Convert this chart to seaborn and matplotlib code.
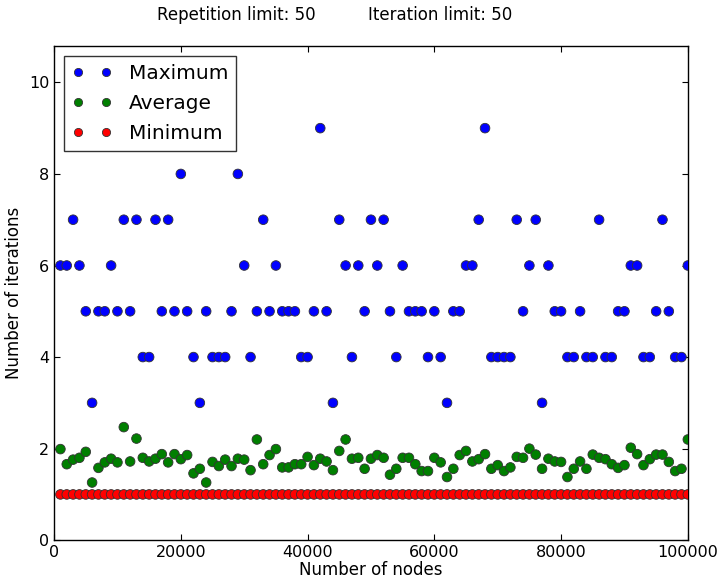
import matplotlib
matplotlib.use("Agg")
import matplotlib.pyplot as plt
import seaborn as sns
import numpy as np
import pandas as pd

nodes = list(range(1000, 100001, 1000))

maximum = [6, 6, 7, 6, 5, 3, 5, 5, 6, 5,
           7, 5, 7, 4, 4, 7, 5, 7, 5, 8,
           5, 4, 3, 5, 4, 4, 4, 5, 8, 6,
           4, 5, 7, 5, 6, 5, 5, 5, 4, 4,
           5, 9, 5, 3, 7, 6, 4, 6, 5, 7,
           6, 7, 5, 4, 6, 5, 5, 5, 4, 5,
           4, 3, 5, 5, 6, 6, 7, 9, 4, 4,
           4, 4, 7, 5, 6, 7, 3, 6, 5, 5,
           4, 4, 5, 4, 4, 7, 4, 4, 5, 5,
           6, 6, 4, 4, 5, 7, 5, 4, 4, 6]

average = [1.99, 1.66, 1.76, 1.80, 1.93, 1.26, 1.58, 1.70, 1.78, 1.70,
           2.47, 1.72, 2.22, 1.80, 1.72, 1.78, 1.88, 1.70, 1.88, 1.77,
           1.86, 1.46, 1.56, 1.26, 1.71, 1.62, 1.76, 1.62, 1.78, 1.76,
           1.53, 2.20, 1.66, 1.86, 1.99, 1.59, 1.59, 1.66, 1.66, 1.82,
           1.64, 1.78, 1.72, 1.53, 1.95, 2.20, 1.78, 1.80, 1.56, 1.78,
           1.86, 1.80, 1.43, 1.56, 1.80, 1.80, 1.66, 1.51, 1.51, 1.80,
           1.70, 1.38, 1.56, 1.86, 1.95, 1.72, 1.77, 1.88, 1.56, 1.64,
           1.51, 1.59, 1.82, 1.80, 2.00, 1.87, 1.56, 1.78, 1.72, 1.71,
           1.38, 1.56, 1.72, 1.56, 1.87, 1.80, 1.77, 1.66, 1.58, 1.64,
           2.02, 1.88, 1.64, 1.77, 1.87, 1.87, 1.71, 1.51, 1.56, 2.20]

minimum = [1] * 100

series_names = ["Maximum", "Average", "Minimum"]
series_colors = {"Maximum": "#0000ff", "Average": "#007f00", "Minimum": "#ff0000"}

df = pd.DataFrame({
    "nodes": nodes * 3,
    "iterations": maximum + average + minimum,
    "series": ["Maximum"] * 100 + ["Average"] * 100 + ["Minimum"] * 100,
})

sns.set_style("ticks")
plt.rcParams["font.family"] = ["DejaVu Sans"]
plt.rcParams["text.color"] = "black"
plt.rcParams["axes.labelcolor"] = "black"
plt.rcParams["xtick.color"] = "black"
plt.rcParams["ytick.color"] = "black"

fig = plt.figure(figsize=(7.21, 5.79), dpi=100)
ax = fig.add_axes([0.075, 0.067, 0.879, 0.854])

sns.scatterplot(data=df, x="nodes", y="iterations", hue="series",
                hue_order=series_names, palette=series_colors,
                s=48, edgecolor="#333333", linewidth=0.6, ax=ax, zorder=3)

ax.set_xlim(0, 100000)
ax.set_ylim(0, 10.8)
ax.set_xticks(range(0, 100001, 20000))
ax.set_yticks(range(0, 11, 2))
ax.tick_params(direction="in", top=True, right=True, length=4, labelsize=11.5,
               colors="black")
for s in ax.spines.values():
    s.set_visible(True)
    s.set_linewidth(1.0)
    s.set_color("black")

ax.set_xlabel("Number of nodes", fontsize=12, labelpad=1, color="black")
ax.set_ylabel("Number of iterations", fontsize=12, labelpad=4, color="black")

leg = ax.legend(loc="upper left", numpoints=2, scatterpoints=2, fontsize=14.5,
                frameon=True, fancybox=False, borderaxespad=0.5,
                handlelength=2.0, handletextpad=0.8, labelspacing=0.55,
                borderpad=0.4, markerscale=0.85)
leg.get_frame().set_edgecolor("black")
leg.get_frame().set_linewidth(1.0)
for t in leg.get_texts():
    t.set_color("black")

fig.text(0.218, 0.974, "Repetition limit: 50", fontsize=12, va="center", ha="left",
         color="black")
fig.text(0.510, 0.974, "Iteration limit: 50", fontsize=12, va="center", ha="left",
         color="black")

fig.savefig("out.png", dpi=100)
